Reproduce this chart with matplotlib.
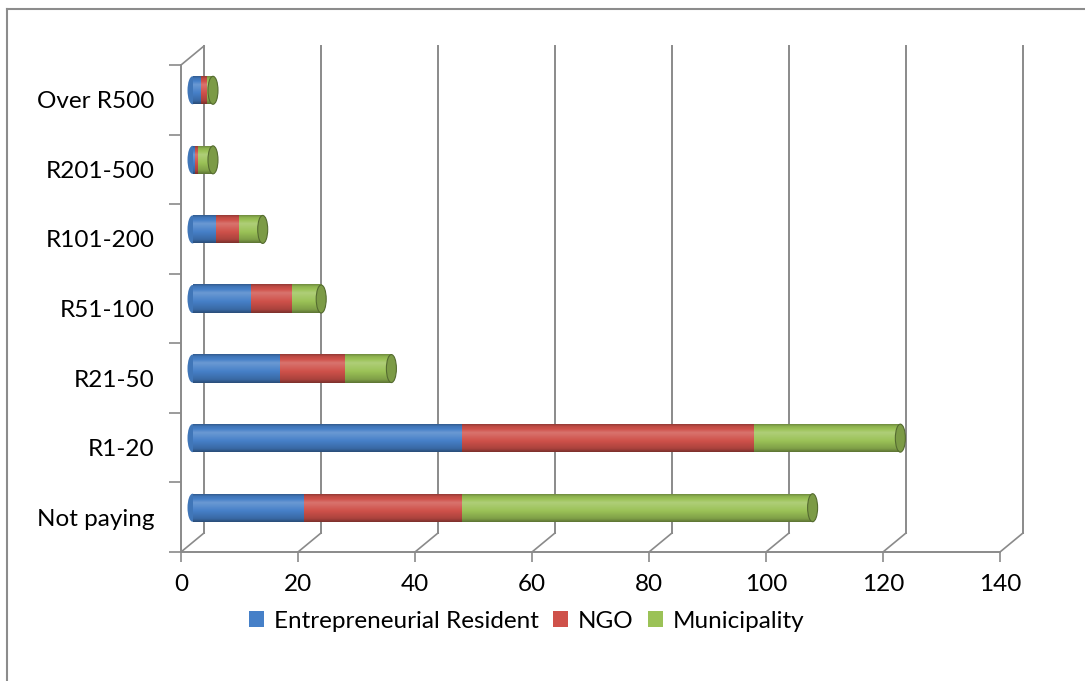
import numpy as np
import matplotlib.pyplot as plt
from matplotlib.patches import Ellipse, Rectangle
from matplotlib.lines import Line2D
from matplotlib.colors import to_rgb

# ---------------- data ----------------
categories = ['Not paying', 'R1-20', 'R21-50', 'R51-100', 'R101-200', 'R201-500', 'Over R500']
resident = [19, 46, 15, 10, 4, 0.5, 1.5]
ngo = [27, 50, 11, 7, 4, 0.5, 1]
municipality = [60, 25, 8, 5, 4, 2.5, 1]
series_names = ['Entrepreneurial Resident', 'NGO', 'Municipality']
series_colors = ['#4680c8', '#cf514a', '#9bc257']
x_ticks = [0, 20, 40, 60, 80, 100, 120, 140]

plt.rcParams['font.family'] = ['Lato', 'DejaVu Sans']
grid_col = '#8a8a8a'
fsize = 17.5

W, H = 1085, 681
fig = plt.figure(figsize=(W / 100, H / 100), dpi=100)
ax = fig.add_axes([181 / W, 129 / H, 819 / W, 487 / H])
xmax = 140
ax.set_xlim(0, xmax)
ax.set_ylim(-0.5, len(categories) - 0.5)

# pixel -> data conversions for the fake depth
kx = 819 / xmax
ky = 487 / len(categories)
bx, by = 23 / kx, 19 / ky          # back wall offset
mx, my = bx / 2, by / 2            # bars sit at mid depth
ytop = len(categories) - 0.5

# back wall gridlines + floor diagonals
for t in x_ticks:
    ax.add_line(Line2D([t, t + bx], [-0.5, -0.5 + by], color=grid_col, lw=1.2, clip_on=False, zorder=1))
    ax.add_line(Line2D([t + bx, t + bx], [-0.5 + by, ytop + by], color=grid_col, lw=1.4, clip_on=False, zorder=1))
ax.add_line(Line2D([0, bx], [ytop, ytop + by], color=grid_col, lw=1.2, clip_on=False, zorder=1))


def shaded(color, n=64):
    c = np.array(to_rgb(color))
    t = np.linspace(0, 1, n)
    f = np.interp(t, [0, 0.08, 0.3, 0.6, 0.88, 1], [0.72, 0.92, 1.1, 1.0, 0.82, 0.6])
    rows = []
    for v in f:
        if v > 1:
            rows.append(c + (1 - c) * (v - 1) * 2)
        else:
            rows.append(c * v)
    return np.clip(np.array(rows), 0, 1).reshape(n, 1, 3)


bar_h = 28 / ky
ew = 10 / kx
series = [resident, ngo, municipality]
for i in range(len(categories)):
    yc = i + my
    left = 0
    # rounded left end of the cylinder
    ax.add_patch(Ellipse((mx, yc), ew, bar_h, facecolor=np.array(to_rgb(series_colors[0])) * 0.92,
                         edgecolor='none', zorder=2))
    for vals, col in zip(series, series_colors):
        v = vals[i]
        ax.imshow(shaded(col), extent=(left + mx, left + v + mx, yc - bar_h / 2, yc + bar_h / 2),
                  aspect='auto', interpolation='bilinear', zorder=3)
        left += v
    # end cap
    cap = np.array(to_rgb(series_colors[2]))
    ax.add_patch(Ellipse((left + mx, yc), ew, bar_h, facecolor=cap * 0.8,
                         edgecolor=cap * 0.55, lw=0.8, zorder=4))

ax.set_xlim(0, xmax)
ax.set_ylim(-0.5, ytop)

# axes styling
for s in ['top', 'right']:
    ax.spines[s].set_visible(False)
for s in ['left', 'bottom']:
    ax.spines[s].set_color(grid_col)
    ax.spines[s].set_linewidth(1.4)
ax.set_xticks(x_ticks)
ax.set_xticklabels([str(t) for t in x_ticks])
ax.tick_params(axis='x', direction='out', length=7, color=grid_col, width=1.2, labelsize=fsize, pad=9)
ax.set_yticks(np.arange(-0.5, len(categories), 1))
ax.set_yticklabels([])
ax.tick_params(axis='y', which='major', direction='out', length=9, color=grid_col, width=1.2)
ax.set_yticks(range(len(categories)), minor=True)
ax.set_yticklabels(categories, minor=True)
ax.tick_params(axis='y', which='minor', length=0, labelsize=fsize, pad=19)
ax.patch.set_alpha(0)

handles = [Rectangle((0, 0), 1, 1, facecolor=c) for c in series_colors]
fig.legend(handles, series_names, loc='center', bbox_to_anchor=(527 / W, 1 - 621 / H), ncol=3,
           frameon=False, fontsize=fsize, handlelength=0.62, handleheight=0.62,
           handletextpad=0.4, columnspacing=0.6)

# outer chart border
fig.add_artist(Line2D([7 / W, 1], [1 - 9 / H, 1 - 9 / H], color='#8c8c8c', lw=1.5))
fig.add_artist(Line2D([7 / W, 7 / W], [1 - 9 / H, 0], color='#8c8c8c', lw=1.5))

fig.savefig('out.png', dpi=100)
